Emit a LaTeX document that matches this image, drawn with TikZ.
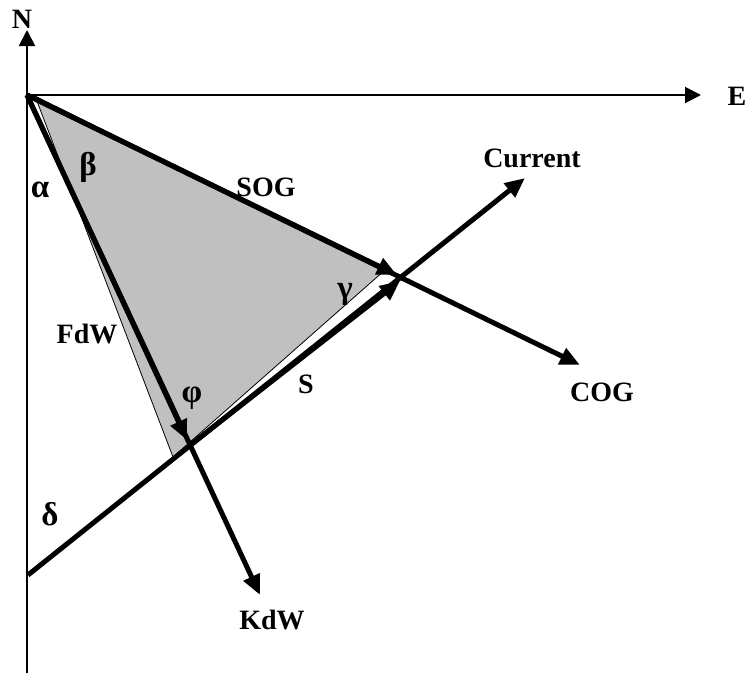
\documentclass[tikz,border=0pt]{standalone}
\usepackage{fontspec}
\setmainfont{Liberation Serif}
\usetikzlibrary{arrows.meta}
\usetikzlibrary{positioning}
\definecolor{shade}{RGB}{192,192,192}

\tikzset{
  lbl/.style={font=\fontsize{28}{30}\selectfont\bfseries, inner sep=0pt},
  grk/.style={font=\fontsize{33}{35}\selectfont\bfseries, inner sep=0pt},
  axis/.style={line width=2pt, -{Triangle[length=16pt,width=16pt]}},
  vec/.style={line width=5pt, -{Triangle[length=20pt,width=17pt]}},
}

\begin{document}
\begin{tikzpicture}[x=1pt,y=-1pt]
\useasboundingbox (0,0) rectangle (747,673);

%---------------------------------------
% Points
%---------------------------------------
\coordinate (O) at (27,95);        % origin
\coordinate (Ntip) at (27,30);
\coordinate (Sbot) at (27,673);
\coordinate (Etip) at (701,95);
\coordinate (Xs) at (397,275);     % SOG tip
\coordinate (Xc) at (400,281);     % S tip
\coordinate (Yf) at (187,440);     % FdW tip
\coordinate (Ys) at (189,446);     % S start
\coordinate (Ktip) at (260,595);   % KdW
\coordinate (Ctip) at (580,365);   % COG
\coordinate (Cur0) at (28,575);    % current start
\coordinate (Cur1) at (525,178);   % current end

% Triangle corners
\coordinate (A) at (35,96);
\coordinate (B) at (385,270);
\coordinate (C) at (173,457);

%---------------------------------------
% Shaded triangle
%---------------------------------------
\filldraw[fill=shade, draw=black, line width=0.8pt] (A) -- (B) -- (C) -- cycle;

% Axes
\draw[axis] (Sbot) -- (Ntip);
\draw[axis] (O) -- (Etip);

% Vectors
\draw[vec] (O) -- (Ctip);
\draw[vec] (O) -- (Xs);
\draw[vec] (O) -- (Ktip);
\draw[vec] (O) -- (Yf);
\draw[vec] (Cur0) -- (Cur1);
\draw[vec] (Ys) -- (Xc);

% Labels
\node[lbl] (nlbl) at (22,19) {N};
\node[lbl] (elbl) at (737,96) {E};
\node[lbl] (curlbl) at (532,158) {Current};
\node[lbl] (soglbl) at (266,187) {SOG};
\node[lbl] (coglbl) at (602,392) {COG};
\node[lbl] (kdwlbl) at (272,620) {KdW};
\node[lbl] (fdwlbl) at (87,334) {FdW};
\node[lbl] (slbl) at (306,384) {S};

% Angles
\node[grk] (alpha) at (40,190) {α};
\node[grk] (beta) at (88,167) {β};
\node[grk] (gamma) at (345,294) {γ};
\node[grk] (phi) at (192,398) {φ};
\node[grk] (delta) at (50,514) {δ};

\end{tikzpicture}
\end{document}
